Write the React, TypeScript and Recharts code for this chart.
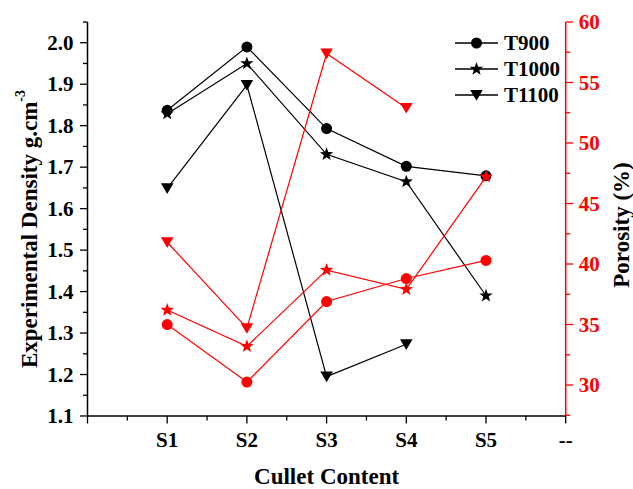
import React from "react";
import { LineChart, Line, XAxis, YAxis, Legend, Label } from "recharts";

// cullet content categories (x positions 1..5), with an empty slot before and "--" after
const categories = ["S1", "S2", "S3", "S4", "S5"];
const xTickLabels = ["", "S1", "S2", "S3", "S4", "S5", "--"];

// experimental density, g.cm-3 (left axis)
const densityT900 = [1.837, 1.99, 1.793, 1.702, 1.679];
const densityT1000 = [1.829, 1.95, 1.731, 1.665, 1.39];
const densityT1100 = [1.649, 1.898, 1.195, 1.273, null];

// porosity, % (right axis)
const porosityT900 = [35.0, 30.25, 36.9, 38.8, 40.3];
const porosityT1000 = [36.2, 33.2, 39.5, 37.9, 47.2];
const porosityT1100 = [41.8, 34.7, 57.4, 52.9, null];

const xMajor = [0, 1, 2, 3, 4, 5, 6];
const xMinor = [0.5, 1.5, 2.5, 3.5, 4.5, 5.5];
const densityMajor = [1.1, 1.2, 1.3, 1.4, 1.5, 1.6, 1.7, 1.8, 1.9, 2.0];
const densityMinor = [1.15, 1.25, 1.35, 1.45, 1.55, 1.65, 1.75, 1.85, 1.95, 2.05];
const porosityMajor = [30, 35, 40, 45, 50, 55, 60];
const porosityMinor = [27.5, 32.5, 37.5, 42.5, 47.5, 52.5, 57.5];

const FONT = '"Liberation Serif", "Times New Roman", serif';
const RED = "#ff0000";
const BLACK = "#000000";
const MAJOR_LEN = 7.5;
const MINOR_LEN = 4.5;

const data = categories.map((name, i) => ({
  pos: i + 1,
  name,
  t900: densityT900[i],
  t1000: densityT1000[i],
  t1100: densityT1100[i],
  p900: porosityT900[i],
  p1000: porosityT1000[i],
  p1100: porosityT1100[i],
}));

type Shape = "circle" | "star" | "triangle";

const series: { key: string; name: string; axis: string; color: string; shape: Shape; legend: boolean }[] = [
  { key: "t900", name: "T900", axis: "left", color: BLACK, shape: "circle", legend: true },
  { key: "t1000", name: "T1000", axis: "left", color: BLACK, shape: "star", legend: true },
  { key: "t1100", name: "T1100", axis: "left", color: BLACK, shape: "triangle", legend: true },
  { key: "p900", name: "P900", axis: "right", color: RED, shape: "circle", legend: false },
  { key: "p1000", name: "P1000", axis: "right", color: RED, shape: "star", legend: false },
  { key: "p1100", name: "P1100", axis: "right", color: RED, shape: "triangle", legend: false },
];

function Marker({ shape, cx, cy, color }: { shape: Shape; cx: number; cy: number; color: string }) {
  if (shape === "circle") return <circle cx={cx} cy={cy} r={5.5} fill={color} />;
  if (shape === "star") {
    const pts: string[] = [];
    for (let k = 0; k < 10; k++) {
      const r = k % 2 === 0 ? 7 : 2.9;
      const a = -Math.PI / 2 + (k * Math.PI) / 5;
      pts.push(`${cx + r * Math.cos(a)},${cy + r * Math.sin(a)}`);
    }
    return <polygon points={pts.join(" ")} fill={color} />;
  }
  return <polygon points={`${cx - 6.3},${cy - 5} ${cx + 6.3},${cy - 5} ${cx},${cy + 5.7}`} fill={color} />;
}

const isIn = (list: number[], v: number) => list.some((m) => Math.abs(m - v) < 1e-6);

const tickText = { fontFamily: FONT, fontWeight: "bold" as const, fontSize: 21 };

// tickSize/tickMargin are 0, so x,y of each tick sits on the axis line
const LeftTick = (props: any) => {
  const { x, y, payload } = props;
  const major = isIn(densityMajor, payload.value);
  return (
    <g>
      <line x1={x} x2={x - (major ? MAJOR_LEN : MINOR_LEN)} y1={y} y2={y} stroke={BLACK} strokeWidth={1.3} />
      {major && (
        <text x={x - 14} y={y + 7} textAnchor="end" fill={BLACK} {...tickText}>
          {payload.value.toFixed(1)}
        </text>
      )}
    </g>
  );
};

const RightTick = (props: any) => {
  const { x, y, payload } = props;
  const major = isIn(porosityMajor, payload.value);
  return (
    <g>
      <line x1={x} x2={x + (major ? MAJOR_LEN : MINOR_LEN)} y1={y} y2={y} stroke={RED} strokeWidth={1.3} />
      {major && (
        <text x={x + 13} y={y + 7} textAnchor="start" fill={RED} {...tickText}>
          {payload.value}
        </text>
      )}
    </g>
  );
};

const BottomTick = (props: any) => {
  const { x, y, payload } = props;
  const major = isIn(xMajor, payload.value);
  return (
    <g>
      <line x1={x} x2={x} y1={y} y2={y + (major ? MAJOR_LEN : MINOR_LEN)} stroke={BLACK} strokeWidth={1.3} />
      {major && (
        <text x={x} y={y + 30.5} textAnchor="middle" fill={BLACK} {...tickText}>
          {xTickLabels[Math.round(payload.value)]}
        </text>
      )}
    </g>
  );
};

const TopTick = (props: any) => {
  const { x, y, payload } = props;
  const major = isIn(xMajor, payload.value);
  return <line x1={x} x2={x} y1={y} y2={y + (major ? MAJOR_LEN : MINOR_LEN)} stroke={BLACK} strokeWidth={1.3} />;
};

const titleStyle = { fontFamily: FONT, fontWeight: "bold" as const, fontSize: 23 };

const LeftTitle = (props: any) => {
  const vb = props.viewBox;
  const cx = vb.x + 11.5;
  const cy = vb.y + vb.height / 2 + 10;
  return (
    <text x={cx} y={cy} transform={`rotate(-90, ${cx}, ${cy})`} textAnchor="middle" dominantBaseline="central" fill={BLACK} {...titleStyle}>
      Experimental Density g.cm
      <tspan dy={-9} fontSize={14}>-3</tspan>
    </text>
  );
};

const RightTitle = (props: any) => {
  const vb = props.viewBox;
  const cx = vb.x + vb.width + 5.5;
  const cy = vb.y + vb.height / 2 + 6;
  return (
    <text x={cx} y={cy} transform={`rotate(-90, ${cx}, ${cy})`} textAnchor="middle" dominantBaseline="central" fill={BLACK} {...titleStyle}>
      Porosity (%)
    </text>
  );
};

const BottomTitle = (props: any) => {
  const vb = props.viewBox;
  return (
    <text x={vb.x + vb.width / 2} y={vb.y + vb.height + 28} textAnchor="middle" fill={BLACK} {...titleStyle}>
      Cullet Content
    </text>
  );
};

const renderLegend = (props: any) => {
  const items = (props.payload || []) as any[];
  // keep only the density series, in the order they are declared
  const shown = series.filter(
    (s) => s.legend && items.some((e) => e.dataKey === s.key || e.value === s.name)
  );
  return (
    <div style={{ fontFamily: FONT, fontWeight: "bold", fontSize: 21, lineHeight: "26px" }}>
      {shown.map((s) => (
        <div key={s.key} style={{ display: "flex", alignItems: "center", height: 26 }}>
          <svg width={49} height={26} style={{ display: "block" }}>
            <line x1={0} x2={43} y1={13} y2={13} stroke={s.color} strokeWidth={1.3} />
            <Marker shape={s.shape} cx={21.5} cy={13} color={s.color} />
          </svg>
          <span style={{ color: s.color }}>{s.name}</span>
        </div>
      ))}
    </div>
  );
};

export default function App() {
  const xTicks = [...xMajor, ...xMinor].sort((a, b) => a - b);
  return (
    <div style={{ position: "absolute", left: 0, top: 0, background: "#fff" }}>
      <LineChart width={633} height={489} data={data} margin={{ top: 22, right: 17.3, bottom: 33, left: 17.5 }}>
        <XAxis
          dataKey="pos"
          type="number"
          domain={[0, 6]}
          ticks={xTicks}
          interval={0}
          height={40}
          tickSize={0}
          tickMargin={0}
          tickLine={false}
          tick={BottomTick}
          axisLine={{ stroke: BLACK, strokeWidth: 1.5 }}
        >
          <Label content={BottomTitle} />
        </XAxis>
        <XAxis
          xAxisId="top"
          orientation="top"
          dataKey="pos"
          type="number"
          domain={[0, 6]}
          ticks={xTicks}
          interval={0}
          height={0}
          tickSize={0}
          tickMargin={0}
          tickLine={false}
          tick={TopTick}
          axisLine={{ stroke: BLACK, strokeWidth: 1.5 }}
        />
        <YAxis
          yAxisId="left"
          domain={[1.1, 2.05]}
          ticks={[...densityMajor, ...densityMinor].sort((a, b) => a - b)}
          interval={0}
          width={70}
          tickSize={0}
          tickMargin={0}
          tickLine={false}
          tick={LeftTick}
          allowDataOverflow
          axisLine={{ stroke: BLACK, strokeWidth: 1.5 }}
        >
          <Label content={LeftTitle} />
        </YAxis>
        <YAxis
          yAxisId="right"
          orientation="right"
          domain={[27.44, 60]}
          ticks={[...porosityMajor, ...porosityMinor].sort((a, b) => a - b)}
          interval={0}
          width={50}
          tickSize={0}
          tickMargin={0}
          tickLine={false}
          tick={RightTick}
          allowDataOverflow
          axisLine={{ stroke: RED, strokeWidth: 1.5 }}
        >
          <Label content={RightTitle} />
        </YAxis>
        <Legend
          layout="vertical"
          align="center"
          verticalAlign="middle"
          content={renderLegend}
          wrapperStyle={{ left: 455, top: 30, width: 130 }}
        />
        {series.map((s) => (
          <Line
            key={s.key}
            yAxisId={s.axis}
            dataKey={s.key}
            name={s.name}
            stroke={s.color}
            strokeWidth={1.2}
            legendType={s.legend ? "line" : "none"}
            isAnimationActive={false}
            dot={(p: any) =>
              p.cx == null || p.cy == null || p.value == null ? (
                <g key={`${s.key}-${p.index}`} />
              ) : (
                <Marker key={`${s.key}-${p.index}`} shape={s.shape} cx={p.cx} cy={p.cy} color={s.color} />
              )
            }
            activeDot={false}
          />
        ))}
      </LineChart>
    </div>
  );
}
